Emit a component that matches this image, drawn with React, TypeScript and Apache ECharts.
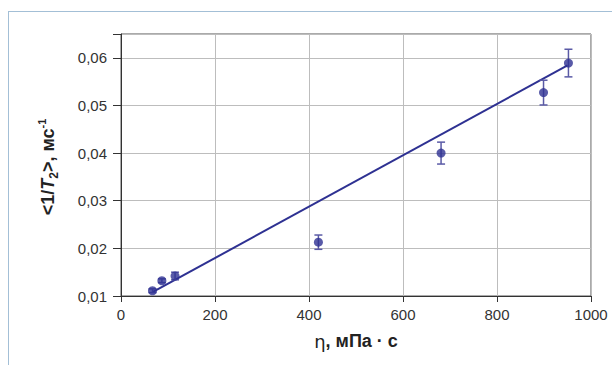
import React, { useEffect, useRef } from "react";
import * as echarts from "echarts";

// Data
const viscosity = [67, 87, 115, 420, 681, 899, 952];
const relaxRate = [0.0111, 0.0132, 0.0142, 0.0213, 0.04, 0.0527, 0.0589];
const errors = [0.0004, 0.0004, 0.0008, 0.0015, 0.0023, 0.0026, 0.0029];
const fitX = [67, 950];
const fitY = [0.0108, 0.0584];
const xTicks = [0, 200, 400, 600, 800, 1000];
const yTickLabels = ["0,01", "0,02", "0,03", "0,04", "0,05", "0,06"];

const FONT = "'Liberation Sans', Arial, sans-serif";
const BLUE = "#2e3192";
const ERR = "#5a5aa6";

export default function App() {
  const ref = useRef<HTMLDivElement>(null);
  useEffect(() => {
    if (!ref.current) return;
    const chart = echarts.init(ref.current, null, { renderer: "svg" });
    const option: any = {
      animation: false,
      backgroundColor: "#ffffff",
      grid: {
        left: 121,
        right: 21,
        top: 34,
        bottom: 69,
        show: true,
        borderColor: "#555555",
        borderWidth: 1,
        backgroundColor: "transparent",
      },
      xAxis: {
        type: "value",
        min: 0,
        max: 1000,
        interval: 200,
        axisLine: { show: true, onZero: false, lineStyle: { color: "#333333", width: 1 } },
        axisTick: { show: true, inside: false, length: 6, lineStyle: { color: "#333333" } },
        splitLine: { show: true, lineStyle: { color: "#bdbdbd", width: 1 } },
        axisLabel: {
          margin: 11,
          fontSize: 15,
          fontFamily: FONT,
          color: "#333333",
          formatter: (v: number) => (xTicks.includes(Math.round(v)) ? String(Math.round(v)) : ""),
        },
      },
      yAxis: {
        type: "value",
        min: 0.01,
        max: 0.065,
        interval: 0.01,
        axisLine: { show: true, onZero: false, lineStyle: { color: "#333333", width: 1 } },
        axisTick: { show: true, inside: false, length: 8, lineStyle: { color: "#333333" } },
        splitLine: { show: true, lineStyle: { color: "#bdbdbd", width: 1 } },
        axisLabel: {
          margin: 14,
          fontSize: 15,
          fontFamily: FONT,
          color: "#333333",
          formatter: (v: number) => {
            const k = Math.round(v * 100) - 1;
            if (Math.abs(v * 100 - Math.round(v * 100)) > 0.01) return "";
            return yTickLabels[k] ?? "";
          },
        },
      },
      series: [
        {
          type: "line",
          data: fitX.map((x, i) => [x, fitY[i]]),
          symbol: "none",
          lineStyle: { color: BLUE, width: 2 },
          z: 3,
          silent: true,
        },
        {
          type: "custom",
          data: viscosity.map((x, i) => [x, relaxRate[i], errors[i]]),
          encode: { x: 0, y: 1 },
          z: 4,
          renderItem: (params: any, api: any) => {
            const x = api.value(0);
            const y = api.value(1);
            const e = api.value(2);
            const top = api.coord([x, y + e]);
            const bot = api.coord([x, y - e]);
            const w = 4;
            const style = { stroke: ERR, lineWidth: 1.5 };
            return {
              type: "group",
              children: [
                { type: "line", shape: { x1: top[0], y1: top[1], x2: bot[0], y2: bot[1] }, style },
                { type: "line", shape: { x1: top[0] - w, y1: top[1], x2: top[0] + w, y2: top[1] }, style },
                { type: "line", shape: { x1: bot[0] - w, y1: bot[1], x2: bot[0] + w, y2: bot[1] }, style },
              ],
            };
          },
        },
        {
          type: "scatter",
          data: viscosity.map((x, i) => [x, relaxRate[i]]),
          symbol: "circle",
          symbolSize: 9,
          itemStyle: { color: BLUE },
          z: 5,
        },
      ],
      graphic: [
        {
          type: "line",
          shape: { x1: 8, y1: 11.5, x2: 612, y2: 11.5 },
          style: { stroke: "#a3bfd6", lineWidth: 1 },
          silent: true,
        },
        {
          type: "line",
          shape: { x1: 8.5, y1: 11, x2: 8.5, y2: 365 },
          style: { stroke: "#a3bfd6", lineWidth: 1 },
          silent: true,
        },
        {
          type: "text",
          x: 48,
          y: 167,
          rotation: Math.PI / 2,
          style: {
            text: "{b|<1/}{i|T}{sub|2}{b|>, мс}{sup|-1}",
            align: "center",
            verticalAlign: "middle",
            fill: "#222222",
            rich: {
              b: { fontSize: 18, fontWeight: "bold", fontFamily: FONT, fill: "#222222", lineHeight: 24 },
              i: { fontSize: 18, fontWeight: "bold", fontStyle: "italic", fontFamily: FONT, fill: "#222222", lineHeight: 24 },
              sub: { fontSize: 12, fontWeight: "bold", fontFamily: FONT, fill: "#222222", lineHeight: 12, verticalAlign: "bottom" },
              sup: { fontSize: 11, fontWeight: "bold", fontFamily: FONT, fill: "#222222", lineHeight: 11, verticalAlign: "top" },
            },
          },
        },
        {
          type: "text",
          x: 356,
          y: 341,
          style: {
            text: "{n|η}{b|, мПа · с}",
            align: "center",
            verticalAlign: "middle",
            rich: {
              n: { fontSize: 18, fontFamily: "'DejaVu Sans', sans-serif", fill: "#222222" },
              b: { fontSize: 18, fontWeight: "bold", fontFamily: FONT, fill: "#222222" },
            },
          },
        },
      ],
    };
    chart.setOption(option);
    return () => chart.dispose();
  }, []);
  return (
    <div
      ref={ref}
      style={{ position: "fixed", left: 0, top: 0, width: 612, height: 365, background: "#fff" }}
    />
  );
}
